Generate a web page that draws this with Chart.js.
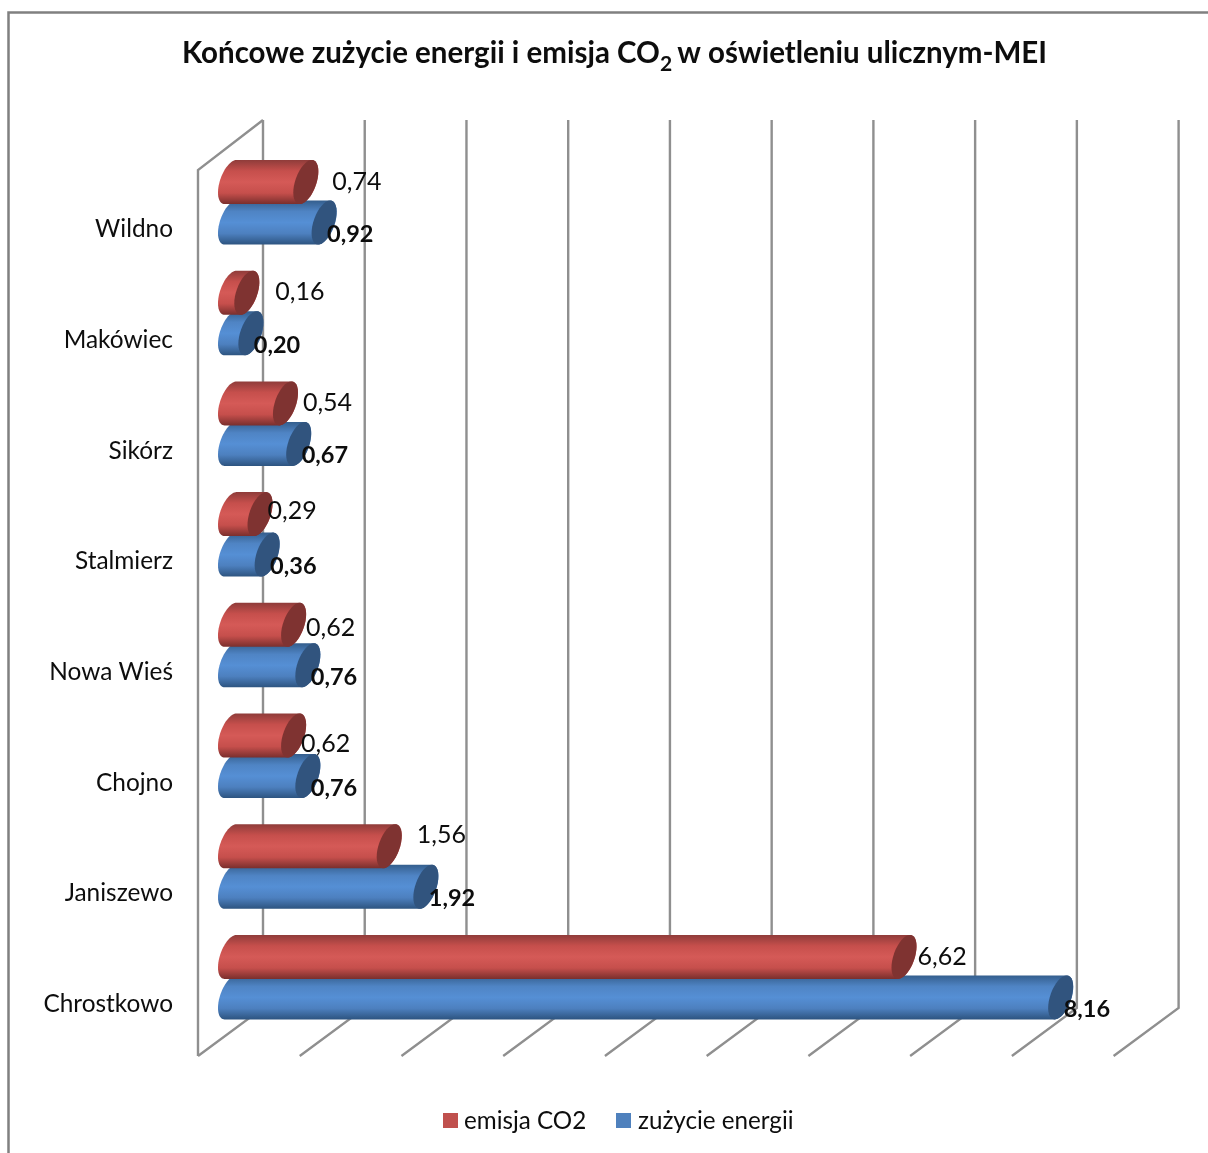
<!DOCTYPE html>
<html lang="pl">
<head>
<meta charset="utf-8">
<title>Końcowe zużycie energii i emisja CO2</title>
<script src="https://cdn.jsdelivr.net/npm/chart.js@4"></script>
<style>
  html, body { margin: 0; padding: 0; background: #fff; }
  canvas { display: block; }
</style>
</head>
<body>
<canvas id="chart" width="1208" height="1153"></canvas>
<script>
const categories = ['Wildno', 'Makówiec', 'Sikórz', 'Stalmierz', 'Nowa Wieś', 'Chojno', 'Janiszewo', 'Chrostkowo'];
const emissions = [0.74, 0.16, 0.54, 0.29, 0.62, 0.62, 1.56, 6.62];
const energyUse = [0.92, 0.20, 0.67, 0.36, 0.76, 0.76, 1.92, 8.16];
const seriesNames = ['emisja CO2', 'zużycie energii'];

// Hand-placed nudges of the emission value labels, as [dx, dy] from the bar end.
const emissionLabelNudge = [[39, 0], [41, -0.7], [30, -0.4], [20, -3.1], [25, 3.2], [20, 8.5], [40, -11.2], [26, 0]];

const FONT = 'Lato, sans-serif';
const GRID = '#8f8f8f';
const TEXT = '#0d0d0d';
const WALL = { backDx: 45, frontDx: -20, floorBack: 1008, floorFront: 1056, top: 120, frontTop: 170 };

const PALETTE = {
  red: { stops: ['#8f3c3a', '#c64f4c', '#d55a57', '#c64f4c', '#7a2f2d'], cap: '#7f3331', swatch: '#c0504d' },
  blue: { stops: ['#345e8d', '#4f84c4', '#558fd5', '#4d80bf', '#2d5480'], cap: '#31547e', swatch: '#4f81bd' }
};

// Cylinder look: the library's bar element keeps its geometry and gets a new painter.
function ellipsePoint(cx, cy, a, k, b, t) {
  return [cx + a * Math.cos(t) - k * Math.sin(t), cy + b * Math.sin(t)];
}
function traceArc(ctx, cx, cy, a, k, b, from, to, start) {
  const steps = 36;
  for (let i = 0; i <= steps; i++) {
    const p = ellipsePoint(cx, cy, a, k, b, from + (to - from) * i / steps);
    if (i === 0 && start) ctx.moveTo(p[0], p[1]); else ctx.lineTo(p[0], p[1]);
  }
}
Chart.BarElement.prototype.draw = function (ctx) {
  const { x, y, base, height } = this.getProps(['x', 'y', 'base', 'height']);
  const look = this.options.backgroundColor === PALETTE.red.swatch ? PALETTE.red : PALETTE.blue;
  const b = height / 2, a = 11, k = 6;
  const reach = Math.sqrt(a * a + k * k);
  const top = y - b, bottom = y + b;
  const leftCx = base + reach, rightCx = x + reach;

  const fill = ctx.createLinearGradient(0, top, 0, bottom);
  look.stops.forEach((c, i) => fill.addColorStop(i / (look.stops.length - 1), c));

  ctx.save();
  ctx.beginPath();
  traceArc(ctx, leftCx, y, a, k, b, -Math.PI / 2, -3 * Math.PI / 2, true);
  traceArc(ctx, rightCx, y, a, k, b, Math.PI / 2, -Math.PI / 2, false);
  ctx.closePath();
  ctx.fillStyle = fill;
  ctx.fill();

  ctx.beginPath();
  traceArc(ctx, rightCx, y, a, k, b, 0, 2 * Math.PI, true);
  ctx.closePath();
  ctx.fillStyle = look.cap;
  ctx.fill();
  ctx.restore();
};

// Frame, perspective walls and floor, anchored on the value scale's ticks.
const backdrop = {
  id: 'backdrop',
  beforeDraw(chart) {
    const { ctx } = chart;
    ctx.save();
    ctx.strokeStyle = '#808080';
    ctx.lineWidth = 2.5;
    ctx.beginPath();
    ctx.moveTo(8.5, 1153);
    ctx.lineTo(8.5, 12.5);
    ctx.lineTo(1208, 12.5);
    ctx.stroke();
    ctx.restore();
  },
  beforeDatasetsDraw(chart) {
    const { ctx, scales: { x: xs } } = chart;
    ctx.save();
    ctx.strokeStyle = GRID;
    ctx.lineWidth = 2.4;
    xs.ticks.forEach(t => {
      const px = xs.getPixelForValue(t.value);
      ctx.beginPath();
      ctx.moveTo(px + WALL.backDx, WALL.top);
      ctx.lineTo(px + WALL.backDx, WALL.floorBack);
      ctx.lineTo(px + WALL.frontDx, WALL.floorFront);
      ctx.stroke();
    });
    const zero = xs.getPixelForValue(0);
    ctx.beginPath();
    ctx.moveTo(zero + WALL.backDx, WALL.top);
    ctx.lineTo(zero + WALL.frontDx, WALL.frontTop);
    ctx.lineTo(zero + WALL.frontDx, WALL.floorFront);
    ctx.stroke();
    ctx.restore();
  }
};

// Value labels, title with its subscript, and the legend row.
const annotations = {
  id: 'annotations',
  afterDatasetsDraw(chart) {
    const { ctx } = chart;
    const fmt = v => v.toFixed(2).replace('.', ',');
    ctx.save();
    ctx.fillStyle = TEXT;
    ctx.textBaseline = 'middle';
    ctx.textAlign = 'left';

    chart.getDatasetMeta(1).data.forEach((bar, i) => {
      ctx.font = 'bold 23.5px ' + FONT;
      ctx.fillText(fmt(energyUse[i]), bar.x + 15.5, bar.y + 12);
    });
    chart.getDatasetMeta(0).data.forEach((bar, i) => {
      const [dx, dy] = emissionLabelNudge[i];
      ctx.font = '25px ' + FONT;
      ctx.fillText(fmt(emissions[i]), bar.x + dx, bar.y + dy);
    });

    // Title
    const parts = [
      ['Końcowe zużycie energii i emisja CO', 0, 29.5],
      ['2 ', 8, 21],
      ['w oświetleniu ulicznym-MEI', 0, 29.5]
    ];
    ctx.textBaseline = 'alphabetic';
    let total = 0;
    parts.forEach(p => { ctx.font = 'bold ' + p[2] + 'px ' + FONT; total += ctx.measureText(p[0]).width; });
    let tx = 614.5 - total / 2;
    parts.forEach(p => {
      ctx.font = 'bold ' + p[2] + 'px ' + FONT;
      ctx.fillText(p[0], tx, 63 + p[1]);
      tx += ctx.measureText(p[0]).width;
    });

    // Legend
    const slots = [[443, 464, PALETTE.red.swatch], [616, 638, PALETTE.blue.swatch]];
    ctx.font = '24.2px ' + FONT;
    ctx.textBaseline = 'middle';
    slots.forEach((s, i) => {
      ctx.fillStyle = s[2];
      ctx.fillRect(s[0], 1113, 15, 15);
      ctx.fillStyle = TEXT;
      ctx.fillText(seriesNames[i], s[1], 1121);
    });
    ctx.restore();
  }
};

new Chart(document.getElementById('chart'), {
  type: 'bar',
  data: {
    labels: categories,
    datasets: [
      { label: seriesNames[0], data: emissions, backgroundColor: PALETTE.red.swatch },
      { label: seriesNames[1], data: energyUse, backgroundColor: PALETTE.blue.swatch }
    ]
  },
  options: {
    indexAxis: 'y',
    responsive: false,
    animation: false,
    devicePixelRatio: 1,
    layout: { padding: { left: 0, right: 74.4, top: 146.9, bottom: 120.5 } },
    datasets: { bar: { categoryPercentage: 0.7317, barPercentage: 1.087, borderWidth: 0 } },
    plugins: { legend: { display: false }, title: { display: false }, tooltip: { enabled: false } },
    scales: {
      x: { display: false, min: 0, max: 9, ticks: { stepSize: 1 } },
      y: {
        offset: true,
        grid: { display: false },
        border: { display: false },
        afterFit(scale) { scale.width = 218; },
        ticks: { color: TEXT, padding: 37, labelOffset: 27, font: { family: FONT, size: 24.4 } }
      }
    }
  },
  plugins: [backdrop, annotations]
});
</script>
</body>
</html>
